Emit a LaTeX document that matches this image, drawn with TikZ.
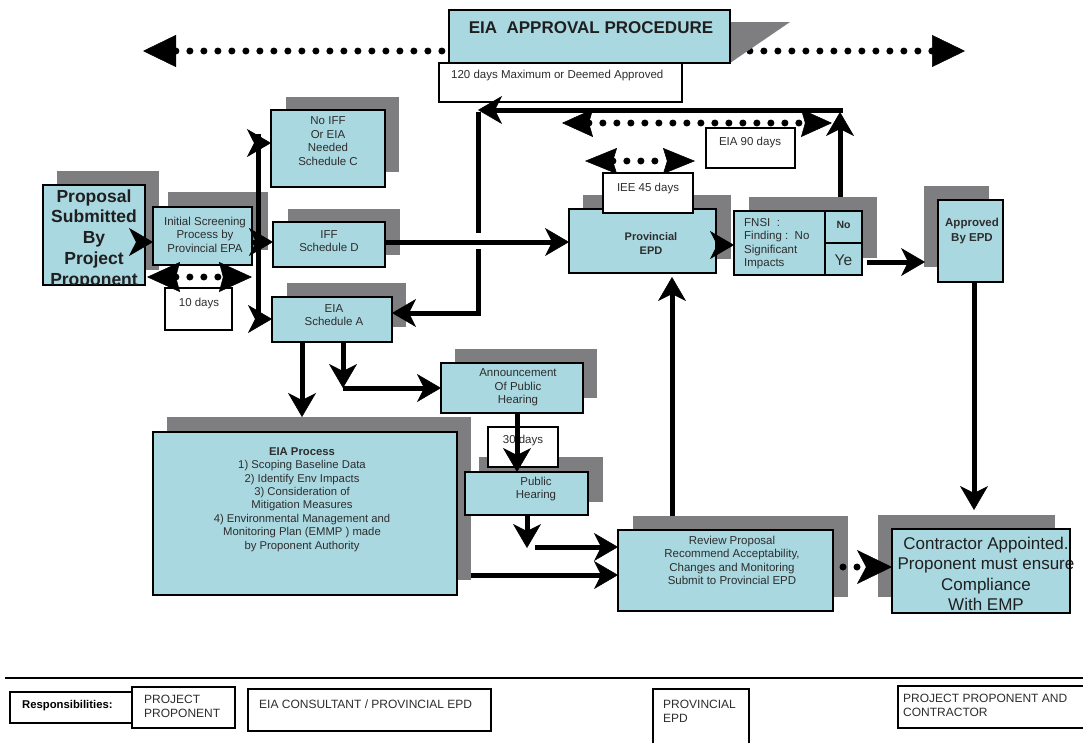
\documentclass[tikz,border=0pt]{standalone}
\usepackage{fontspec}
\setmainfont{Liberation Sans}
\usetikzlibrary{arrows.meta,calc}
\definecolor{boxblue}{RGB}{170,216,225}
\definecolor{shadowgrey}{RGB}{126,126,128}
\definecolor{txt}{RGB}{45,45,45}
\tikzset{
  box/.style={draw=black,line width=1.8pt,fill=boxblue,inner sep=0pt,outer sep=0pt,anchor=north west},
  wbox/.style={draw=black,line width=1.6pt,fill=white,inner sep=0pt,outer sep=0pt,anchor=north west},
  shd/.style={fill=shadowgrey},
  sm/.style={font=\fontsize{11.5}{13.5}\selectfont,text=txt,align=center,inner sep=0pt},
  rs/.style={font=\fontsize{12}{14}\selectfont,text=txt,align=left,inner sep=0pt,anchor=west},
  ln/.style={line width=5pt},
  arr/.style={line width=5pt,-{Stealth[length=24pt,width=28pt,inset=7pt,line width=0.5pt]}},
  dotln/.style={line width=7pt,line cap=round,dash pattern=on 0pt off 14pt},
}
\begin{document}
\begin{tikzpicture}[x=1pt,y=-1pt]
\useasboundingbox (0,0) rectangle (1083,742);
\fill[white] (0,0) rectangle (1083,742);

% top dotted double arrow
\coordinate (dl) at (143,51); \coordinate (dr) at (965,51);
\draw[dotln,{Triangle[length=33pt,width=32pt,line width=0.5pt]}-{Triangle[length=33pt,width=32pt,line width=0.5pt]}] (dl) -- (dr);

% shadows
\fill[shd] (730,22) -- (790,22) -- (730,63) -- cycle;
\fill[shd] (57,171) rectangle (159,270);
\fill[shd] (168,192) rectangle (268,250);
\fill[shd] (286,97) rectangle (399,172);
\fill[shd] (288,209) rectangle (400,255);
\fill[shd] (287,283) rectangle (406,327);
\fill[shd] (583,195) rectangle (731,259);
\fill[shd] (749,197) rectangle (877,258);
\fill[shd] (924,186) rectangle (989,267);
\fill[shd] (455,349) rectangle (597,398);
\fill[shd] (479,457) rectangle (603,502);
\fill[shd] (167,417) rectangle (471,580);
\fill[shd] (633,516) rectangle (848,597);
\fill[shd] (878,515) rectangle (1055,597);

% boxes
\node[box,minimum width=281pt,minimum height=53pt] (title) at (449,10) {};
\node[wbox,minimum width=243pt,minimum height=39pt] (n120) at (439,63) {};
\node[box,minimum width=102pt,minimum height=100pt] (prop) at (43,185) {};
\node[box,minimum width=99pt,minimum height=58pt] (init) at (153,207) {};
\node[wbox,minimum width=67pt,minimum height=42pt] (d10) at (165,288) {};
\node[box,minimum width=114pt,minimum height=77pt] (noiff) at (271,110) {};
\node[box,minimum width=112pt,minimum height=45pt] (iff) at (273,222) {};
\node[box,minimum width=120pt,minimum height=45pt] (scha) at (272,297) {};
\node[box,minimum width=147pt,minimum height=64pt] (epd) at (569,209) {};
\node[wbox,minimum width=90pt,minimum height=40pt] (iee) at (603,173) {};
\node[wbox,minimum width=89pt,minimum height=40pt] (e90) at (706,128) {};
\node[box,minimum width=91pt,minimum height=64pt] (fnsi) at (734,211) {};
\node[box,minimum width=37pt,minimum height=32pt] (no) at (825,211) {};
\node[box,minimum width=37pt,minimum height=32pt] (ye) at (825,243) {};
\node[box,minimum width=65pt,minimum height=82pt] (appr) at (938,200) {};
\node[box,minimum width=142pt,minimum height=50pt] (ann) at (441,363) {};
\node[wbox,minimum width=70pt,minimum height=40pt] (d30) at (488,427) {};
\node[box,minimum width=123pt,minimum height=43pt] (pub) at (465,472) {};
\node[box,minimum width=304pt,minimum height=163pt] (eiap) at (153,432) {};
\node[box,minimum width=215pt,minimum height=81pt] (rev) at (618,530) {};
\node[box,minimum width=178pt,minimum height=84pt] (con) at (892,529) {};

% texts
\node[font=\fontsize{17}{19}\selectfont\bfseries,text=black!88,inner sep=0pt] (titletxt) at (591,28) {EIA\ \ APPROVAL PROCEDURE};
\node[sm,anchor=west] (t120) at (451,76) {120 days Maximum or Deemed Approved};
\begin{scope}
\clip (44,186) rectangle (144,284);
\node[font=\fontsize{17.5}{20.75}\selectfont\bfseries,text=black!88,align=center,inner sep=0pt] (proptxt) at (94,239) {Proposal\\Submitted\\By\\Project\\Proponent};
\end{scope}
\node[sm] (inittxt) at (205,234.5) {Initial Screening\\Process by\\Provincial EPA};
\node[sm] (d10txt) at (199,304) {10 days};
\node[sm] (noifftxt) at (328,141) {No IFF\\Or EIA\\Needed\\Schedule C};
\node[sm] (ifftxt) at (329,241) {IFF\\Schedule D};
\node[sm] (schatxt) at (334,315) {EIA\\Schedule A};
\node[sm,font=\fontsize{11}{14}\selectfont\bfseries] (epdtxt) at (651,243.5) {Provincial\\EPD};
\node[sm] (ieetxt) at (648,189) {IEE 45 days};
\node[sm] (e90txt) at (750,143) {EIA 90 days};
\node[sm,align=left,anchor=west] (fnsitxt) at (744,243.5) {FNSI\ \ :\\Finding :\ \ No\\Significant\\Impacts};
\node[font=\fontsize{10.5}{12}\selectfont\bfseries,text=txt,inner sep=0pt] (notxt) at (843.5,225) {No};
\node[font=\fontsize{15.5}{17}\selectfont,text=txt,inner sep=0pt] (yetxt) at (843.5,260) {Ye};
\node[sm,font=\fontsize{11.5}{15}\selectfont\bfseries] (apprtxt) at (972,231) {Approved\\By EPD};
\node[sm] (anntxt) at (518,387.5) {Announcement\\Of Public\\Hearing};
\node[sm] (d30txt) at (523,441) {30 days};
\node[sm] (pubtxt) at (536,489) {Public\\Hearing};
\node[sm,font=\fontsize{11.3}{13.4}\selectfont] (eiaptxt) at (302,499.5) {\textbf{EIA Process}\\1) Scoping Baseline Data\\2) Identify Env Impacts\\3) Consideration of\\Mitigation Measures\\4) Environmental Management and\\Monitoring Plan (EMMP ) made\\by Proponent Authority};
\node[sm] (revtxt) at (732,560.5) {Review Proposal\\Recommend Acceptability,\\Changes and Monitoring\\Submit to Provincial EPD};
\begin{scope}
\clip (850,530) rectangle (1083,612);
\node[font=\fontsize{17}{20.5}\selectfont,text=black!88,align=center,inner sep=0pt] (contxt) at (986,574) {Contractor Appointed.\\Proponent must ensure\\Compliance\\With EMP};
\end{scope}
\draw[line width=1.8pt] (con.north west) rectangle (con.south east);

% dotted double arrows
\coordinate (e1) at (562,123); \coordinate (e2) at (832,123);
\draw[dotln,{Stealth[length=31pt,width=28pt,inset=4pt,line width=0.5pt]}-{Stealth[length=31pt,width=28pt,inset=4pt,line width=0.5pt]}] (e1) -- (e2);
\coordinate (i1) at (585,161); \coordinate (i2) at (695,161);
\draw[dotln,{Stealth[length=32pt,width=26pt,inset=4pt,line width=0.5pt]}-{Stealth[length=32pt,width=26pt,inset=4pt,line width=0.5pt]}] (i1) -- (i2);
\coordinate (t1) at (147,277); \coordinate (t2) at (252,277);
\draw[dotln,{Stealth[length=33pt,width=30pt,inset=4pt,line width=0.5pt]}-{Stealth[length=33pt,width=30pt,inset=4pt,line width=0.5pt]}] (t1) -- (t2);

% solid arrows
\draw[arr] ([yshift=-7pt]prop.east) -- ([yshift=-7pt]prop.east -| init.west);
\coordinate (j1) at (258,143); \coordinate (j3) at (258,319);
\draw[ln] ([yshift=9pt]j1) -- ([yshift=-2pt]j3);
\draw[arr] (j1) -- (j1 -| noiff.west);
\draw[arr] ([yshift=-6pt]init.east) -- ([yshift=-6pt]init.east -| iff.west);
\draw[arr] (j3) -- (j3 -| scha.west);
\draw[arr] ([yshift=2.5pt]iff.east) -- ([yshift=2.5pt]iff.east -| epd.west);
\draw[arr] ([yshift=-4pt]epd.east) -- ([yshift=-4pt]epd.east -| fnsi.west);
\coordinate (tr) at (840,110); \coordinate (tl) at (478,110);
\draw[arr] ([xshift=-3.5pt,yshift=14pt]no.north) -- ([yshift=-2pt]tr);
\draw[arr] ([xshift=2.5pt]tr) -- (tl);
\coordinate (g1) at (478,233); \coordinate (g2) at (478,249);
\draw[ln] ([yshift=-2pt]tl) -- (g1);
\draw[arr] (g2) |- ([yshift=6.5pt]scha.east);
\draw[arr,shorten >=15pt] ([xshift=-30pt]scha.south) -- ([xshift=-30pt]scha.south |- eiap.north);
\coordinate (k1) at (343,388);
\draw[arr] (k1 |- scha.south) -- (k1);
\draw[arr] (k1) -- (k1 -| ann.west);
\draw[arr] ([xshift=5pt]ann.south) -- ([xshift=5pt]ann.south |- pub.north);
\coordinate (k2) at (527,548); \coordinate (k3) at (535,547);
\draw[arr] (k2 |- pub.south) -- (k2);
\draw[arr] (k3) -- (k3 -| rev.west);
\coordinate (k4) at (471,575);
\draw[arr] (k4) -- (k4 -| rev.west);
\coordinate (k5) at (672,516);
\draw[arr,shorten >=4pt] (k5) -- (k5 |- epd.south);
\draw[arr,shorten >=13pt] ([xshift=5pt,yshift=-3pt]ye.east) -- ([yshift=-3pt]ye.east -| appr.west);
\draw[arr,shorten >=19pt] ([xshift=3.5pt]appr.south) -- ([xshift=3.5pt]appr.south |- con.north);
\coordinate (k6) at (843,567);
\draw[dotln,-{Stealth[length=35pt,width=34pt,inset=9pt,line width=0.5pt]}] (k6) -- (k6 -| con.west);

% responsibilities row
\draw[line width=1.5pt] (5,678) -- (1083,678);
\node[wbox,line width=1.8pt,minimum width=122pt,minimum height=31pt] (resp) at (10,692) {};
\node[wbox,minimum width=103pt,minimum height=41pt] (pp) at (132,687) {};
\node[wbox,minimum width=243pt,minimum height=42pt] (eic) at (248,689) {};
\node[wbox,minimum width=96pt,minimum height=62pt] (pve) at (653,689) {};
\node[wbox,minimum width=192pt,minimum height=42pt] (ppc) at (898,686) {};
\node[rs,font=\fontsize{11.3}{13}\selectfont\bfseries,text=black] (resptxt) at (22,706) {Responsibilities:};
\node[rs] (pptxt) at (144,706) {PROJECT\\PROPONENT};
\node[rs] (eictxt) at (259,704) {EIA CONSULTANT / PROVINCIAL EPD};
\node[rs] (pvetxt) at (663,711) {PROVINCIAL\\EPD};
\node[rs] (ppctxt) at (903,705) {PROJECT PROPONENT AND\\CONTRACTOR};
\end{tikzpicture}
\end{document}
